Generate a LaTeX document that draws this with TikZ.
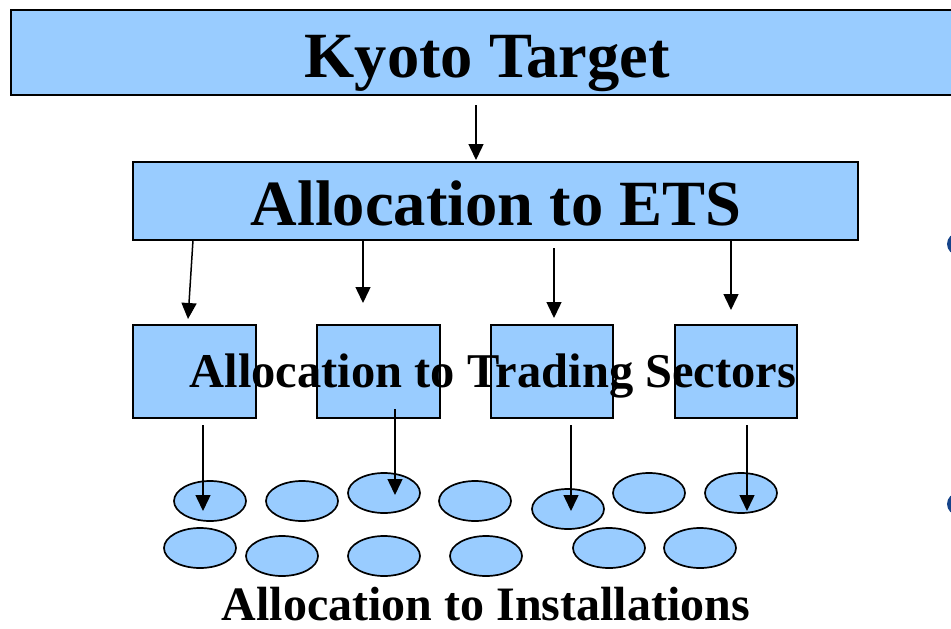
\documentclass[tikz,border=0pt]{standalone}
\usepackage{fontspec}
\setmainfont{Liberation Serif}
\usetikzlibrary{arrows.meta,shapes.geometric}
\definecolor{boxblue}{RGB}{153,204,255}
\definecolor{bulletblue}{RGB}{22,68,138}
\begin{document}
\begin{tikzpicture}[x=1pt,y=-1pt,
  box/.style={draw=black,line width=1.7pt,fill=boxblue,inner sep=0pt},
  inst/.style={ellipse,draw=black,line width=1.7pt,fill=boxblue,minimum width=72pt,minimum height=40pt,inner sep=0pt},
  arr/.style={line width=1.5pt,-{Triangle[length=16pt,width=15pt]}},
  big/.style={font=\bfseries\fontsize{64.5}{64.5}\selectfont,inner sep=0pt,anchor=base},
  mid/.style={font=\bfseries\fontsize{48.5}{48.5}\selectfont,inner sep=0pt,anchor=base},
  bullet/.style={circle,fill=bulletblue,minimum size=22pt,inner sep=0pt}]
\useasboundingbox (0,0) rectangle (951,629);
\clip (0,0) rectangle (951,629);
% boxes
\node[box,minimum width=954pt,minimum height=85pt] (kyoto) at (488,52.5) {};
\node[box,minimum width=725pt,minimum height=78pt] (ets) at (495.5,201) {};
\node[box,minimum width=123pt,minimum height=93pt] (s1) at (194.5,371.5) {};
\node[box,minimum width=123pt,minimum height=93pt] (s2) at (378.5,371.5) {};
\node[box,minimum width=122pt,minimum height=93pt] (s3) at (552,371.5) {};
\node[box,minimum width=122pt,minimum height=93pt] (s4) at (736,371.5) {};
% labels
\node[big] (tkyoto) at (487,77) {Kyoto Target};
\node[big] (tets) at (496,225) {Allocation to ETS};
\node[mid] (tsect) at (493,387) {Allocation to Trading Sectors};
\node[font=\bfseries\fontsize{48}{48}\selectfont,inner sep=0pt,anchor=base] (tinst) at (486,620) {Allocation to Installations};
% installations
\node[inst] (e1) at (210,501) {};
\node[inst] (e2) at (302,501) {};
\node[inst] (e3) at (384,493) {};
\node[inst] (e4) at (475,501) {};
\node[inst] (e5) at (568,509) {};
\node[inst] (e6) at (649,493) {};
\node[inst] (e7) at (741,493) {};
\node[inst] (f1) at (200,548) {};
\node[inst] (f2) at (282,556) {};
\node[inst] (f3) at (384,556) {};
\node[inst] (f4) at (486,556) {};
\node[inst] (f5) at (609,548) {};
\node[inst] (f6) at (700,548) {};
% bullets (cut off at right)
\node[bullet] (b1) at (958,244) {};
\node[bullet] (b2) at (958,504) {};
% arrow end points
\coordinate (k0) at (476,105);
\coordinate (k1) at (476,160);
\coordinate (a1s) at (193,240);
\coordinate (a1e) at (188,319);
\coordinate (a2s) at (363,240);
\coordinate (a2e) at (363,303);
\coordinate (a3s) at (554,248);
\coordinate (a3e) at (554,318);
\coordinate (a4s) at (731,240);
\coordinate (a4e) at (731,310);
\coordinate (l1s) at (203,425);
\coordinate (l1e) at (203,511);
\coordinate (l2s) at (395,409);
\coordinate (l2e) at (395,495);
\coordinate (l3s) at (571,425);
\coordinate (l3e) at (571,511);
\coordinate (l4s) at (747,425);
\coordinate (l4e) at (747,511);
% arrows
\draw[arr] (k0) -- (k1);
\draw[arr] (a1s) -- (a1e);
\draw[arr] (a2s) -- (a2e);
\draw[arr] (a3s) -- (a3e);
\draw[arr] (a4s) -- (a4e);
\draw[arr] (l1s) -- (l1e);
\draw[arr] (l2s) -- (l2e);
\draw[arr] (l3s) -- (l3e);
\draw[arr] (l4s) -- (l4e);
\end{tikzpicture}
\end{document}
